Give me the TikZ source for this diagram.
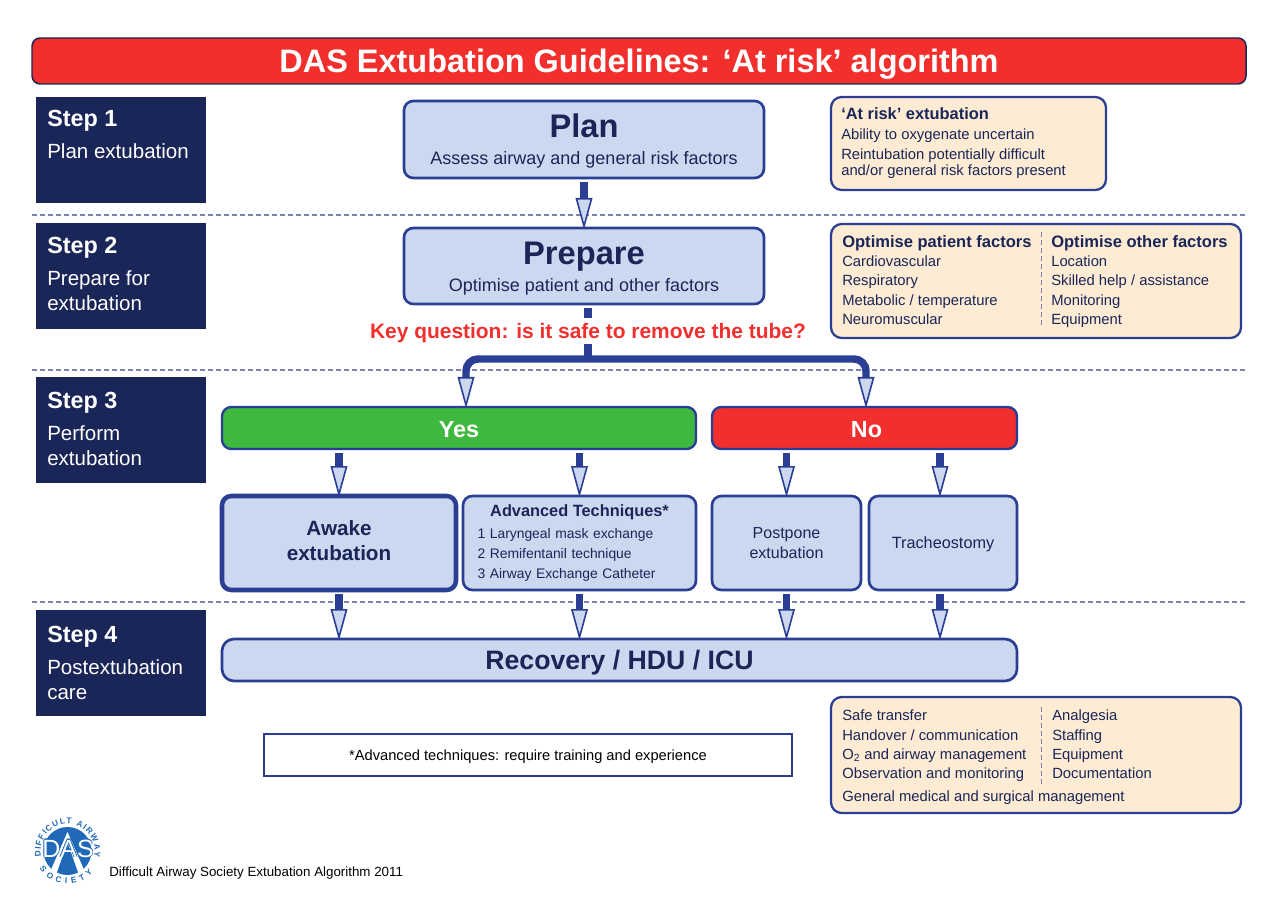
\documentclass[tikz,border=0pt]{standalone}
\usepackage{fontspec}
\setmainfont{Liberation Sans}
\usepackage{contour}
\usetikzlibrary{arrows.meta,decorations.text}
\definecolor{navy}{HTML}{1A2657}
\definecolor{edgeblue}{HTML}{2A3F93}
\definecolor{paleblue}{HTML}{CBD8F0}
\definecolor{cream}{HTML}{FDEBD3}
\definecolor{alarm}{HTML}{F22F2D}
\definecolor{safe}{HTML}{3FB83F}
\definecolor{rulegrey}{HTML}{7C82B0}
\definecolor{logoblue}{HTML}{1F69B8}
\newcommand{\fs}[1]{\fontsize{#1}{#1}\selectfont}
\tikzset{
	stepbox/.style={rectangle, fill=navy, minimum width=127.5pt, minimum height=79.5pt, outer sep=0pt},
	steptext/.style={anchor=north west, align=left, inner sep=0pt, text=white, font=\fontsize{15.4}{18.8}\selectfont},
	bluebox/.style={draw=edgeblue, fill=paleblue, line width=2pt, rounded corners=7pt, outer sep=0pt, inner sep=0pt, align=center, text=navy},
	creambox/.style={draw=edgeblue, fill=cream, line width=1.7pt, rounded corners=8pt, outer sep=0pt},
	listtext/.style={anchor=north west, align=left, inner sep=0pt, text=navy, font=\fontsize{11.1}{14.5}\selectfont},
	answerbox/.style={draw=edgeblue, line width=1.8pt, rounded corners=7pt, outer sep=0pt, text=white, minimum height=31.5pt, text height=14pt, text depth=0pt, font=\bfseries\fs{17.5}},
	sepline/.style={rulegrey, line width=0.9pt, dash pattern=on 3.8pt off 2.2pt},
	flow/.style={edgeblue, line width=5.6pt, shorten <=3pt, shorten >=-1pt, -{Triangle[length=23.5pt, width=12.5pt, fill=paleblue, line width=1.2pt]}},
	stem/.style={edgeblue, line width=5.8pt}
}
\begin{document}
\begin{tikzpicture}[x=0.75pt, y=-0.75pt]
	\useasboundingbox (0,0) rectangle (1280,912);
	\draw[sepline] (32,215) -- (1246,215);
	\draw[sepline] (32,370) -- (1246,370);
	\draw[sepline] (32,602) -- (1246,602);

	\node[draw=navy, fill=alarm, line width=1.1pt, rounded corners=6pt, minimum width=910.5pt, minimum height=34.5pt, text=white, text height=22.5pt, text depth=5pt, inner ysep=0pt, font=\bfseries\fs{24.35}] (title)at(639, 61) {DAS Extubation Guidelines: ‘At risk’ algorithm};

	\node[stepbox] (step1)at(121, 150) {};
	\node[stepbox] (step2)at(121, 276) {};
	\node[stepbox] (step3)at(121, 430) {};
	\node[stepbox] (step4)at(121, 663) {};
	\node[steptext] (text1)at(47, 110) {{\bfseries\fs{17.5}Step 1}\\[5.3pt]Plan extubation};
	\node[steptext] (text2)at(47, 237) {{\bfseries\fs{17.5}Step 2}\\[5.3pt]Prepare for\\extubation};
	\node[steptext] (text3)at(47, 392) {{\bfseries\fs{17.5}Step 3}\\[5.3pt]Perform\\extubation};
	\node[steptext] (text4)at(47, 626) {{\bfseries\fs{17.5}Step 4}\\[5.3pt]Postextubation\\care};

	\node[bluebox, minimum width=270pt, minimum height=57.75pt] (plan)at(584, 139.5) {{\bfseries\fs{24.5}\rule{0pt}{20pt}Plan}\\[8.5pt]{\fs{13.5}Assess airway and general risk factors}};
	\node[bluebox, minimum width=270pt, minimum height=57pt] (prepare)at(584, 266) {{\bfseries\fs{24.5}\rule{0pt}{20.5pt}Prepare}\\[4.2pt]{\fs{13.5}Optimise patient and other factors}};
	\node[text=alarm, fill=white, inner sep=0pt, minimum height=19.5pt, text height=15.3pt, text depth=3.3pt, font=\bfseries\fs{15.7}] (key)at(588, 331) {Key question: is it safe to remove the tube?};
	\coordinate (rail) at (588, 359);

	\node[answerbox, fill=safe, minimum width=355.5pt] (yes)at(459, 428) {Yes};
	\node[answerbox, fill=alarm, minimum width=228.75pt] (no)at(864.5, 428) {\hspace*{3pt}No};
	\coordinate (yestop) at (466, 407);
	\coordinate (notop) at (866, 407);

	\node[bluebox, line width=3.4pt, minimum width=175.5pt, minimum height=70.5pt, font=\bfseries\fontsize{15.5}{19}\selectfont] (awake)at(339, 543) {Awake\\extubation\rule[-4pt]{0pt}{0pt}};
	\node[bluebox, minimum width=174.75pt, minimum height=70.5pt, text width=153pt, align=left, font=\fontsize{10.4}{15}\selectfont] (advanced)at(579.5, 543) {\makebox[153pt]{\bfseries\fs{12.25}Advanced Techniques*}\\[1pt]1 Laryngeal mask exchange\\2 Remifentanil technique\\3 Airway Exchange Catheter};
	\node[bluebox, minimum width=111.75pt, minimum height=70.5pt, font=\fontsize{12}{14.6}\selectfont] (postpone)at(786.5, 543) {Postpone\\extubation};
	\node[bluebox, minimum width=111pt, minimum height=70.5pt, text height=10pt, text depth=2.5pt, font=\fs{12.2}] (trach)at(943, 543) {Tracheostomy};

	\node[bluebox, minimum width=596.25pt, minimum height=31.5pt, rounded corners=9pt, text height=19pt, text depth=4.2pt, font=\bfseries\fs{20}] (recovery)at(619.5, 660) {Recovery / HDU / ICU};
	\node[draw=edgeblue, line width=0.8pt, fill=white, minimum width=396pt, minimum height=31.5pt, outer sep=0pt, text height=11pt, text depth=2.5pt, font=\fs{11}] (note)at(528, 755) {*Advanced techniques: require training and experience};

	\draw[flow] (plan.south) -- (prepare.north);
	\draw[stem, shorten <=3pt] (prepare.south -| key.north) -- (key.north);
	\draw[stem] (key.south) -- (rail);
	\draw[flow, shorten <=0pt, rounded corners=9pt] (rail) -| (yestop);
	\draw[flow, shorten <=0pt, rounded corners=9pt] (rail) -| (notop);

	\draw[flow] (yes.south -| awake.north) -- (awake.north);
	\draw[flow] (yes.south -| advanced.north) -- (advanced.north);
	\draw[flow] (no.south -| postpone.north) -- (postpone.north);
	\draw[flow] ([xshift=-2.25pt]trach.north |- no.south) -- ([xshift=-2.25pt]trach.north);
	\draw[flow] (awake.south) -- (recovery.north -| awake.south);
	\draw[flow] (advanced.south) -- (recovery.north -| advanced.south);
	\draw[flow] (postpone.south) -- (recovery.north -| postpone.south);
	\draw[flow] ([xshift=-2.25pt]trach.south) -- ([xshift=-2.25pt]trach.south |- recovery.north);

	\node[creambox, minimum width=206.25pt, minimum height=69.75pt] (risk)at(968.5, 143.5) {};
	\node[listtext] (risktext)at(841, 107) {{\bfseries\fs{12.3}‘At risk’ extubation}\\[1pt]Ability to oxygenate uncertain\\Reintubation potentially difficult\\[-2pt]and/or general risk factors present};

	\node[creambox, minimum width=307.5pt, minimum height=85.5pt] (optimise)at(1036, 281) {};
	\node[listtext] (patient)at(842, 235) {{\bfseries\fs{12.4}Optimise patient factors}\\Cardiovascular\\Respiratory\\Metabolic / temperature\\Neuromuscular};
	\node[listtext] (other)at(1051, 235) {{\bfseries\fs{12.4}Optimise other factors}\\Location\\Skilled help / assistance\\Monitoring\\Equipment};
	\draw[sepline, line width=0.7pt] (1041,232) -- (1041,328);

	\node[creambox, minimum width=307.5pt, minimum height=87pt] (care)at(1036, 755) {};
	\node[listtext] (caretext)at(842, 710) {Safe transfer\\Handover / communication\\O\textsubscript{2} and airway management\\Observation and monitoring\\[2.5pt]General medical and surgical management};
	\node[listtext] (staff)at(1052, 710) {Analgesia\\Staffing\\Equipment\\Documentation};
	\draw[sepline, line width=0.7pt] (1041,707) -- (1041,785);

	% logo
	\fill[logoblue] (67.5,851) circle (18pt);
	\fill[white] (67.5,832) -- (50,872) -- (56,875) -- (67.5,842) -- (79,875) -- (85,872) -- cycle;
	\path[decorate, decoration={text along path, text align=fit to path, text color=logoblue, text={|\bfseries\fs{6.2}|DIFFICULT AIRWAY}}] (41.1,856.6) arc[start angle=192, end angle=-12, radius=20.25pt];
	\path[decorate, decoration={text along path, text align=fit to path, text color=logoblue, text={|\bfseries\fs{6.2}|SOCIETY}}] (39.5,868.5) arc[start angle=212, end angle=320, radius=24.75pt];
	\contourlength{0.4pt}
	\node[inner sep=0pt, font=\fs{18.7}] (das)at(68, 849) {\contour{logoblue}{\textcolor{white}{DAS}}};
	\node[anchor=west, inner sep=0pt, text=black, font=\fs{10}] (footer)at(109, 873) {Difficult Airway Society Extubation Algorithm 2011};
\end{tikzpicture}
\end{document}
